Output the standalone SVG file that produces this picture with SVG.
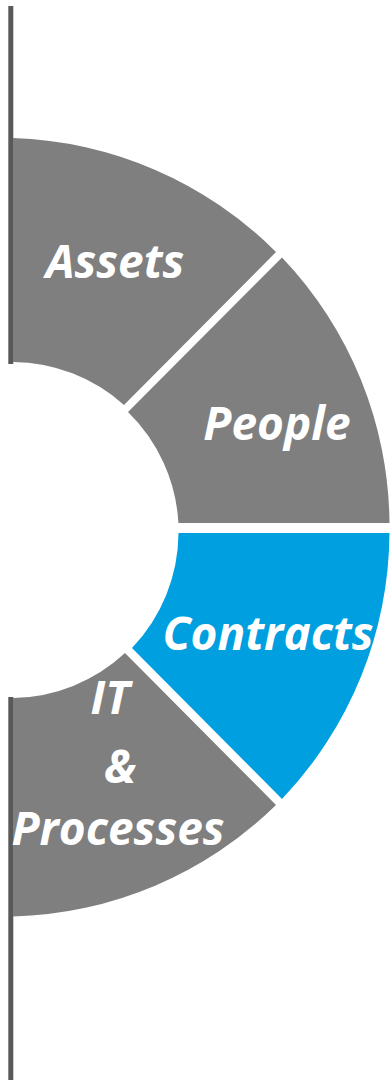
<svg xmlns="http://www.w3.org/2000/svg" width="391" height="1081" viewBox="0 0 391 1081">
<style>
.seg{fill:#7f7f7f}
.hl{fill:#009fe0}
.ax{stroke:#595959;stroke-width:5;fill:none}
.lbl{fill:#ffffff;font-family:"Open Sans","Liberation Sans",sans-serif;font-weight:bold;font-style:italic;font-size:46px;text-anchor:middle}
</style>
<g id="axis">
<line class="ax" x1="10.8" y1="6" x2="10.8" y2="364"/>
<line class="ax" x1="10.8" y1="697" x2="10.8" y2="1080"/>
</g>
<g id="assets">
<path class="seg" d="M13,138 A389.5,389.5 0 0 1 276,252 L124,405 A168,168 0 0 0 13,362 Z"/>
<text class="lbl" x="115" y="278">Assets</text>
</g>
<g id="people">
<path class="seg" d="M282,257.5 A389.5,389.5 0 0 1 389.5,523 L178.4,523 A168,168 0 0 0 128,412 Z"/>
<text class="lbl" x="277" y="440">People</text>
</g>
<g id="contracts">
<path class="hl" d="M178.5,533 L389.5,533 A389.5,389.5 0 0 1 282,799 L132,648 A168,168 0 0 0 178.5,533 Z"/>
<text class="lbl" x="268" y="650">Contracts</text>
</g>
<g id="it">
<path class="seg" d="M276,805 A389.5,389.5 0 0 1 13,916.5 L13,698 A168,168 0 0 0 125,653 Z"/>
<text class="lbl" x="110" y="714">IT</text>
<text class="lbl" x="120" y="783">&amp;</text>
<text class="lbl" x="118" y="845">Processes</text>
</g>
</svg>
